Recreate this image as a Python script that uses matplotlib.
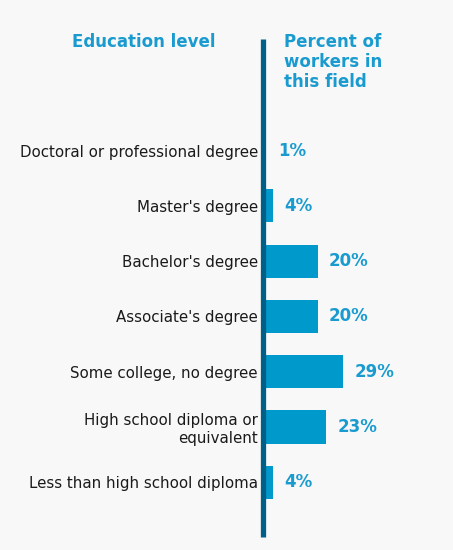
import matplotlib
matplotlib.use("Agg")
import matplotlib.pyplot as plt

categories = ["Doctoral or professional degree", "Master's degree", "Bachelor's degree",
              "Associate's degree", "Some college, no degree",
              "High school diploma or\nequivalent", "Less than high school diploma"]
values = [1, 4, 20, 20, 29, 23, 4]
value_labels = ["1%", "4%", "20%", "20%", "29%", "23%", "4%"]

W, H = 453, 550
BG = "#f8f8f8"
BAR = "#0099cc"
LINE = "#005f87"
TXT_BLUE = "#1a9bd0"

fig = plt.figure(figsize=(W / 100, H / 100), dpi=100, facecolor=BG)

# axes in pixel geometry
x0, x1 = 261, 453
y_top, y_bot = 39, 537
ax = fig.add_axes([x0 / W, 1 - y_bot / H, (x1 - x0) / W, (y_bot - y_top) / H])
ax.set_facecolor(BG)
pxu = 2.8  # pixels per percent
ax.set_xlim(0, (x1 - x0) / pxu)
row0, rowstep = 150.5, 55.3
ax.set_ylim((y_bot - row0) / rowstep, (y_top - row0) / rowstep)

pos = list(range(len(categories)))
ax.barh(pos, values, height=0.6, color=BAR, left=0.35, zorder=2)

# vertical line (drawn over the bar origin)
ax.plot([2.4 / pxu, 2.4 / pxu], [(y_top - row0) / rowstep, (y_bot - row0) / rowstep],
        color=LINE, lw=3.8, solid_capstyle="butt", clip_on=False, zorder=3)

for p, v, lab in zip(pos, values, value_labels):
    ax.annotate(lab, (max(v, 5 / pxu), p), xytext=(8.6, 0), textcoords="offset points",
                va="center", ha="left", color=TXT_BLUE, fontsize=12, fontweight="bold")

ax.set_yticks(pos)
ax.set_yticklabels(categories, fontsize=10.8, color="#1a1a1a")
ax.tick_params(axis="y", length=0, pad=2.2)
ax.set_xticks([])
for s in ax.spines.values():
    s.set_visible(False)

fig.text(144 / W, 1 - 42 / H, "Education level", ha="center", va="center",
         color=TXT_BLUE, fontsize=12, fontweight="bold")
fig.text(284 / W, 1 - 33 / H, "Percent of\nworkers in\nthis field", ha="left", va="top",
         color=TXT_BLUE, fontsize=12, fontweight="bold", linespacing=1.15)

fig.savefig("out.png", dpi=100, facecolor=BG)
